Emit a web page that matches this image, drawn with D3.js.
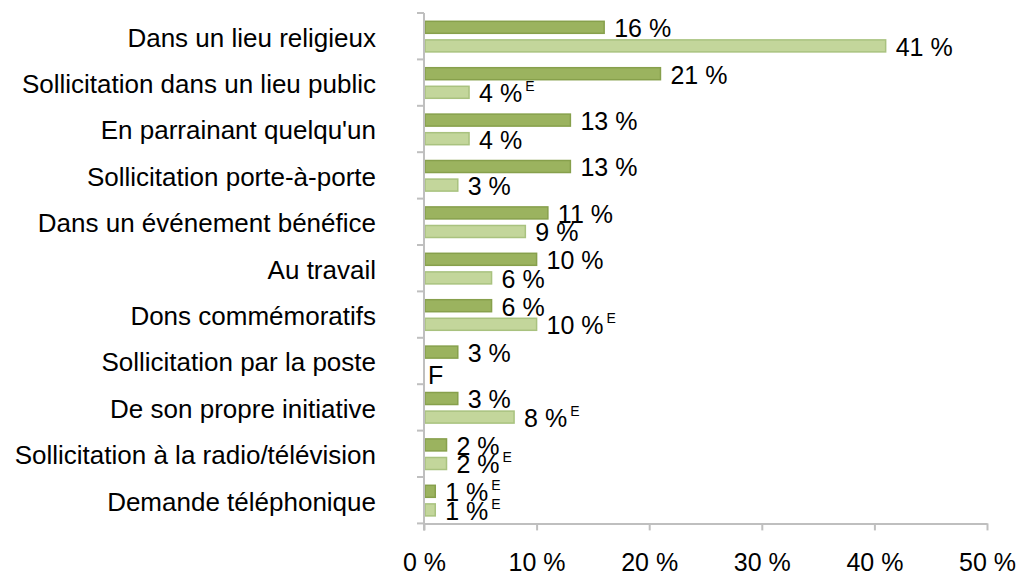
<!DOCTYPE html>
<html>
<head>
<meta charset="utf-8">
<script src="https://cdn.jsdelivr.net/npm/d3@7"></script>
<style>
    body { margin: 0; background: #fff; }
    text { font-family: "Liberation Sans", Arial, sans-serif; fill: #000; }
</style>
</head>
<body>
<div id="chart"></div>
<script>
// Data (two series per category)
const categories = [
    'Dans un lieu religieux',
    'Sollicitation dans un lieu public',
    "En parrainant quelqu'un",
    'Sollicitation porte-à-porte',
    'Dans un événement bénéfice',
    'Au travail',
    'Dons commémoratifs',
    'Sollicitation par la poste',
    'De son propre initiative',
    'Sollicitation à la radio/télévision',
    'Demande téléphonique'
];
const valuesDark  = [16, 21, 13, 13, 11, 10, 6, 3, 3, 2, 1];
const valuesLight = [41, 4, 4, 3, 9, 6, 10, null, 8, 2, 1];
// quality flags: E = use with caution, F = too unreliable to publish
const flagsDark   = ['', '', '', '', '', '', '', '', '', '', 'E'];
const flagsLight  = ['', 'E', '', '', '', '', 'E', 'F', 'E', 'E', 'E'];
const xTicks = [0, 10, 20, 30, 40, 50];

function renderBarChart(containerId) {
    const container = d3.select(`#${containerId}`);
    container.selectAll('*').remove();

    const W = 1016, H = 575;
    const left = 424, right = 987, top = 13, bottom = 523.4;

    const svg = container.append('svg')
        .attr('width', W)
        .attr('height', H);

    const x = d3.scaleLinear().domain([0, 50]).range([left, right]);
    const y = d3.scaleBand().domain(categories).range([top, bottom]).padding(0);
    const inner = d3.scaleBand().domain([0, 1])
        .range([7.8, 39.4]).paddingInner(0.3);

    const rows = categories.map((c, i) => ({
        cat: c,
        series: [
            { k: 0, v: valuesDark[i], flag: flagsDark[i] },
            { k: 1, v: valuesLight[i], flag: flagsLight[i] }
        ]
    }));

    const fills = ['#9bb35f', '#c3d69b'];
    const strokes = ['#87a04c', '#a9c27f'];
    const axisColor = '#bfbfbf';

    // bars
    const groups = svg.selectAll('.grp')
        .data(rows)
        .enter()
        .append('g')
        .attr('transform', d => `translate(0,${y(d.cat)})`);

    groups.selectAll('rect')
        .data(d => d.series.filter(s => s.v != null))
        .enter()
        .append('rect')
        .attr('x', x(0) + 1)
        .attr('y', s => inner(s.k) + 0.5)
        .attr('width', s => x(s.v) - x(0) - 1)
        .attr('height', inner.bandwidth() - 1)
        .attr('fill', s => fills[s.k])
        .attr('stroke', s => strokes[s.k])
        .attr('stroke-width', 1.5);

    // value labels
    const labels = groups.selectAll('.lbl')
        .data(d => d.series)
        .enter()
        .append('text')
        .attr('x', s => s.v == null ? x(0) + 4 : x(s.v) + 10)
        .attr('y', s => inner(s.k) + inner.bandwidth() / 2 + (s.v == null ? 13 : 10))
        .style('font-size', '25px');

    labels.append('tspan')
        .text(s => s.v == null ? s.flag : `${s.v} %`);

    labels.filter(s => s.v != null && s.flag)
        .append('tspan')
        .attr('dx', 3)
        .attr('dy', -11)
        .style('font-size', '14px')
        .text(s => s.flag);

    // category axis (labels only, boundary ticks drawn below)
    const yAxis = svg.append('g')
        .attr('transform', `translate(${left},0)`)
        .call(d3.axisLeft(y).tickSize(0).tickPadding(48));
    yAxis.select('.domain').remove();
    yAxis.selectAll('text')
        .attr('dy', '0.4em')
        .style('font-size', '26px')
        .style('font-family', '"Liberation Sans", Arial, sans-serif');

    svg.append('line')
        .attr('x1', left).attr('x2', left)
        .attr('y1', top).attr('y2', bottom + 7)
        .attr('stroke', axisColor)
        .attr('stroke-width', 2);

    svg.selectAll('.ytick')
        .data(categories.map(c => y(c)).concat([bottom]))
        .enter()
        .append('line')
        .attr('x1', left - 7).attr('x2', left)
        .attr('y1', d => d).attr('y2', d => d)
        .attr('stroke', axisColor)
        .attr('stroke-width', 2);

    // value axis
    const xAxis = svg.append('g')
        .attr('transform', `translate(0,${bottom})`)
        .call(d3.axisBottom(x)
            .tickValues(xTicks)
            .tickFormat(d => `${d} %`)
            .tickSize(7)
            .tickSizeOuter(0)
            .tickPadding(23));
    xAxis.select('.domain')
        .attr('stroke', axisColor)
        .attr('stroke-width', 2);
    xAxis.selectAll('.tick line')
        .attr('stroke', axisColor)
        .attr('stroke-width', 2);
    xAxis.selectAll('.tick text')
        .style('font-size', '25px')
        .style('font-family', '"Liberation Sans", Arial, sans-serif');
}

renderBarChart('chart');
</script>
</body>
</html>
